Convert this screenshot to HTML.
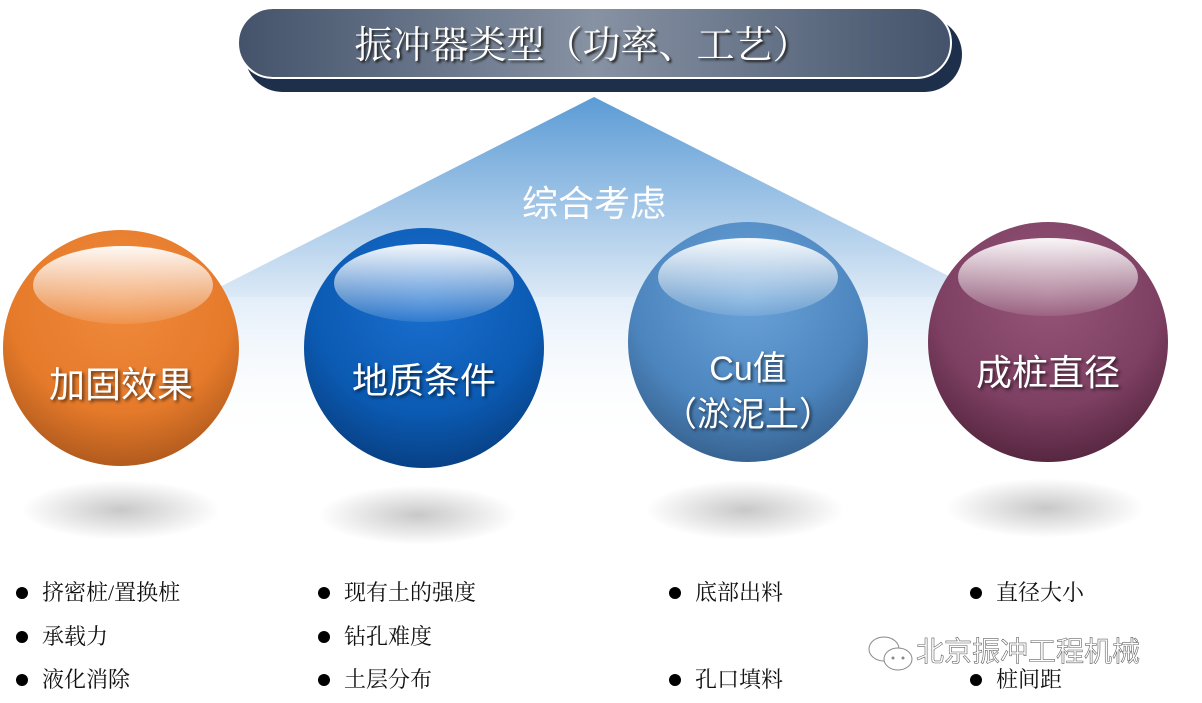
<!DOCTYPE html>
<html><head><meta charset="utf-8"><style>
body{margin:0;width:1202px;height:703px;background:#fff;position:relative;overflow:hidden;font-family:"Liberation Serif","Noto Serif CJK SC",serif}
.a{position:absolute}
.t{font-size:22px;color:#111}
.b{display:inline-block;width:12px;height:12px;border-radius:50%;background:#000;margin-right:14px;vertical-align:middle;position:relative;top:-2px}
.c{position:absolute;border-radius:50%;color:#fff;text-align:center;font-family:"Liberation Sans","Noto Sans CJK SC",sans-serif;font-size:36px;text-shadow:2px 2px 3px rgba(0,0,0,.6)}
.h{position:absolute;left:30px;top:16px;width:180px;height:78px;border-radius:50%;background:linear-gradient(rgba(255,255,255,.95),rgba(255,255,255,0.1))}
.s{position:absolute;width:200px;height:60px;border-radius:50%;background:radial-gradient(ellipse,#c8c8c8,rgba(255,255,255,0) 70%)}
</style></head><body>
<svg class="a" style="left:0;top:0" width="1202" height="703">
<defs><linearGradient id="g" x1="0" y1="0" x2="0" y2="1"><stop offset="0" stop-color="#5b9bd5"/><stop offset="1" stop-color="#dce9f6"/></linearGradient>
<linearGradient id="g2" x1="0" y1="0" x2="0" y2="1"><stop offset="0" stop-color="#e3eef9"/><stop offset="1" stop-color="#fff" stop-opacity="0"/></linearGradient></defs>
<polygon points="594,97 200,297 990,297" fill="url(#g)"/>
<rect x="215" y="297" width="740" height="150" fill="url(#g2)"/>
</svg>
<div class="a" style="left:245px;top:17px;width:717px;height:75px;border-radius:38px;background:#1e2f4b"></div>
<div class="a" style="left:237px;top:7px;width:715px;height:72px;border-radius:36px;background:linear-gradient(90deg,#44536b,#8792a3 50%,#44536b);border:2px solid #fff;box-sizing:border-box"></div>
<div class="a" style="left:225px;top:14px;width:715px;text-align:center;font-size:38px;color:#fff;text-shadow:2px 2px 2px #222">振冲器类型（功率、工艺）</div>
<div class="a" style="left:0;top:175px;width:1188px;text-align:center;font-size:36px;color:#fff;font-family:'Liberation Sans','Noto Sans CJK SC',sans-serif">综合考虑</div>

<div class="s" style="left:21px;top:480px"></div>
<div class="s" style="left:318px;top:485px"></div>
<div class="s" style="left:645px;top:480px"></div>
<div class="s" style="left:945px;top:478px"></div>

<div class="c" style="left:3px;top:230px;width:236px;height:236px;background:radial-gradient(circle at 50% 30%,#f08a3c,#e57a2a 55%,#8e4515)"><div class="h"></div><div style="position:absolute;top:126px;width:100%">加固效果</div></div>
<div class="c" style="left:304px;top:228px;width:240px;height:240px;background:radial-gradient(circle at 50% 30%,#1a6fcf,#0b5ab2 55%,#062f66)"><div class="h" style="left:30px"></div><div style="position:absolute;top:124px;width:100%">地质条件</div></div>
<div class="c" style="left:628px;top:222px;width:240px;height:240px;background:radial-gradient(circle at 50% 30%,#6aa3d8,#4d86bf 55%,#284a70)"><div class="h" style="left:30px"></div><div style="position:absolute;top:124px;width:100%;line-height:46px;font-size:34px">Cu值<br>（淤泥土）</div></div>
<div class="c" style="left:928px;top:222px;width:240px;height:240px;background:radial-gradient(circle at 50% 30%,#955678,#7d3f62 55%,#3c1629)"><div class="h" style="left:30px"></div><div style="position:absolute;top:122px;width:100%">成桩直径</div></div>

<div class="a t" style="left:16px;top:576px"><span class="b"></span>挤密桩/置换桩</div>
<div class="a t" style="left:16px;top:620px"><span class="b"></span>承载力</div>
<div class="a t" style="left:16px;top:663px"><span class="b"></span>液化消除</div>
<div class="a t" style="left:318px;top:576px"><span class="b"></span>现有土的强度</div>
<div class="a t" style="left:318px;top:620px"><span class="b"></span>钻孔难度</div>
<div class="a t" style="left:318px;top:663px"><span class="b"></span>土层分布</div>
<div class="a t" style="left:669px;top:576px"><span class="b"></span>底部出料</div>
<div class="a t" style="left:669px;top:663px"><span class="b"></span>孔口填料</div>
<div class="a t" style="left:970px;top:576px"><span class="b"></span>直径大小</div>
<div class="a t" style="left:970px;top:663px"><span class="b"></span>桩间距</div>
<div class="a" style="left:866px;top:630px;font-size:28px;color:#fff;-webkit-text-stroke:0.6px #666;font-family:'Liberation Sans','Noto Sans CJK SC',sans-serif">
<svg width="50" height="42" style="vertical-align:middle"><ellipse cx="18" cy="16" rx="15" ry="12" fill="#fff" stroke="#888"/><ellipse cx="32" cy="26" rx="14" ry="11" fill="#fff" stroke="#888"/><circle cx="27" cy="25" r="1.5" fill="#888"/><circle cx="37" cy="25" r="1.5" fill="#888"/></svg>北京振冲工程机械</div>
</body></html>
